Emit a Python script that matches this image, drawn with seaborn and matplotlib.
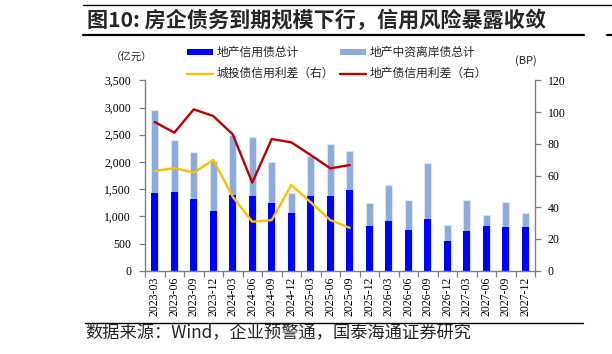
import numpy as np
import pandas as pd
import matplotlib
matplotlib.use("Agg")
import matplotlib.pyplot as plt
import seaborn as sns
from matplotlib.patches import Patch
from matplotlib.lines import Line2D
from matplotlib.ticker import FuncFormatter
from matplotlib import font_manager as fm

# ---------------- data ----------------
periods = ["2023-03", "2023-06", "2023-09", "2023-12", "2024-03", "2024-06", "2024-09",
           "2024-12", "2025-03", "2025-06", "2025-09", "2025-12", "2026-03", "2026-06",
           "2026-09", "2026-12", "2027-03", "2027-06", "2027-09", "2027-12"]
credit_bond = [1420, 1455, 1325, 1105, 1400, 1380, 1250, 1065, 1380, 1380,
               1490, 830, 905, 750, 945, 550, 735, 820, 810, 795]
offshore_bond = [1535, 940, 865, 905, 1090, 1080, 740, 365, 720, 950,
                 705, 420, 675, 550, 1040, 290, 565, 205, 460, 265]
chengtou_spread = [62.8, 64.7, 61.8, 69.8, 46.6, 30.9, 31.9, 54.0, 43.1, 31.9, 27.0]
property_spread = [93.7, 87.0, 101.7, 97.5, 85.9, 55.5, 83.0, 80.9, 72.9, 64.5, 66.6]

label_credit = "地产信用债总计"
label_offshore = "地产中资离岸债总计"
label_ct = "城投债信用利差（右）"
label_pr = "地产债信用利差（右）"

C_BLUE = "#0000FF"
C_LIGHT = "#8FAADC"
C_RED = "#C00000"
C_YEL = "#FFC000"
C_AX = "#808080"

# ---------------- figure ----------------
sns.set_theme(style="ticks")
plt.rcParams["font.family"] = ["Noto Sans CJK SC", "DejaVu Sans"]
plt.rcParams["axes.unicode_minus"] = False

serif_fp = fm.FontProperties(family=["Liberation Serif", "DejaVu Serif"], size=8.5)

W, H = 612, 354
fig = plt.figure(figsize=(W / 100, H / 100), dpi=100)
fig.patch.set_facecolor("white")

L, R, B, T = 145, 535, 270.7, 80.3
ax = fig.add_axes([L / W, 1 - B / H, (R - L) / W, (B - T) / H])
ax.set_facecolor("white")

df = pd.DataFrame({
    "period": periods,
    "credit": credit_bond,
    "total": np.array(credit_bond) + np.array(offshore_bond),
})

sns.barplot(data=df, x="period", y="total", color=C_LIGHT, saturation=1,
            width=0.38, edgecolor="#DCE5F4", linewidth=0.8, ax=ax)
sns.barplot(data=df, x="period", y="credit", color=C_BLUE, saturation=1,
            width=0.38, linewidth=0, ax=ax)

ax.set_xlim(-0.5, len(periods) - 0.5)
ax.set_ylim(0, 3500)
ax.set_yticks(np.arange(0, 3501, 500))
ax.yaxis.set_major_formatter(FuncFormatter(lambda v, p: f"{int(v):,}"))
ax.set_xlabel("")
ax.set_ylabel("")

ax.set_xticks(np.arange(len(periods)))
ax.set_xticklabels(periods, rotation=90)
ax.set_xticks(np.arange(-0.5, len(periods), 1), minor=True)
ax.tick_params(axis="x", which="major", length=0, pad=4, labelcolor="black")
ax.tick_params(axis="x", which="minor", length=4, width=0.9, color=C_AX, direction="out", bottom=True)
ax.tick_params(axis="y", which="major", length=4, width=0.9, color=C_AX, direction="out",
               left=True, pad=6, labelcolor="black")

for s in ["top", "right"]:
    ax.spines[s].set_visible(False)
for s in ["left", "bottom"]:
    ax.spines[s].set_color(C_AX)
    ax.spines[s].set_linewidth(1.0)

# ---------------- lines on right axis ----------------
ax2 = ax.twinx()
sns.lineplot(x=np.arange(len(property_spread)), y=property_spread, color=C_RED, linewidth=1.7, ax=ax2)
sns.lineplot(x=np.arange(len(chengtou_spread)), y=chengtou_spread, color=C_YEL, linewidth=1.7, ax=ax2)
ax2.set_ylim(0, 120)
ax2.set_yticks(np.arange(0, 121, 20))
ax2.set_ylabel("")
ax2.tick_params(axis="y", length=4, width=0.9, color=C_AX, direction="out", right=True,
                pad=5, labelcolor="black")
for s in ["top", "left", "bottom"]:
    ax2.spines[s].set_visible(False)
ax2.spines["right"].set_color(C_AX)
ax2.spines["right"].set_linewidth(1.0)
ax.set_xlim(-0.5, len(periods) - 0.5)

# ---------------- legend ----------------
handles = [Patch(facecolor=C_BLUE, edgecolor="none"),
           Line2D([], [], color=C_YEL, lw=1.7),
           Patch(facecolor=C_LIGHT, edgecolor="none"),
           Line2D([], [], color=C_RED, lw=1.7)]
labels = [label_credit, label_ct, label_offshore, label_pr]
fig.legend(handles, labels, ncol=2, loc="upper left",
           bbox_to_anchor=(187 / W, 1 - 46 / H), frameon=False,
           fontsize=8.5, handlelength=2.2, handleheight=0.45, handletextpad=0.3,
           columnspacing=0.5, labelspacing=0.7, borderpad=0, borderaxespad=0)

# unit labels
fig.text(132 / W, 1 - 58 / H, "（亿元）", fontsize=7.5, ha="center", va="center")
fig.text(526 / W, 1 - 61 / H, "(BP)", fontsize=8, ha="center", va="center")

# ---------------- title / footer ----------------
fig.text(87 / W, 1 - 20.5 / H, "图10: 房企债务到期规模下行，信用风险暴露收敛",
         fontsize=15.2, fontweight="bold", ha="left", va="center")
fig.add_artist(Line2D([83 / W, 1], [1 - 5 / H, 1 - 5 / H], transform=fig.transFigure,
                      color="black", lw=1.0))
fig.add_artist(Line2D([83 / W, 584 / W], [1 - 35 / H, 1 - 35 / H], transform=fig.transFigure,
                      color="black", lw=1.6))
fig.add_artist(Line2D([607 / W, 1], [1 - 35 / H, 1 - 35 / H], transform=fig.transFigure,
                      color="black", lw=1.6))

fig.add_artist(Line2D([85 / W, 583 / W], [1 - 322.7 / H, 1 - 322.7 / H], transform=fig.transFigure,
                      color="black", lw=1.0))
fig.text(85 / W, 1 - 333 / H, "数据来源：Wind，企业预警通，国泰海通证券研究",
         fontsize=12.4, ha="left", va="center")

# serif tick labels
fig.canvas.draw()
for a in (ax, ax2):
    for lab in a.get_xticklabels() + a.get_yticklabels():
        lab.set_fontproperties(serif_fp)

fig.savefig("out.png", dpi=100, facecolor="white")
